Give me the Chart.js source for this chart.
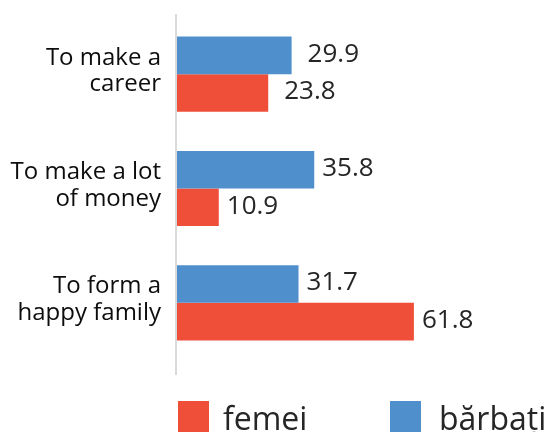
<!DOCTYPE html>
<html>
<head>
<meta charset="utf-8">
<script src="https://cdn.jsdelivr.net/npm/chart.js@4/dist/chart.umd.min.js"></script>
<style>
    body { margin: 0; background: #fff; }
    #wrap { position: relative; width: 552px; height: 432px; overflow: hidden; font-family: "Open Sans", sans-serif; }
    #chart { position: absolute; left: 0; top: 0; }
    .leg-box { position: absolute; top: 401px; width: 31px; height: 31px; }
    .leg-txt { position: absolute; top: 402px; font-size: 32px; line-height: 32px; color: #262626; white-space: nowrap; }
</style>
</head>
<body>
<div id="wrap">
    <canvas id="chart" width="552" height="432"></canvas>
    <div id="legend"></div>
</div>
<script>
// dados
const categorias = [['To make a', 'career'], ['To make a lot', 'of money'], ['To form a', 'happy family']];
const barbati = [29.9, 35.8, 31.7];
const femei = [23.8, 10.9, 61.8];

const corAzul = '#4F8FCC';
const corVermelho = '#EF4F38';

// distancia do rotulo ao fim da barra (por categoria)
const gapRotulo = [16, 8, 8];

// rotulos de valor ao lado das barras
const rotulosPlugin = {
    id: 'rotulos',
    afterDatasetsDraw(chart) {
        const ctx = chart.ctx;
        ctx.save();
        ctx.font = '26px "Open Sans"';
        ctx.fillStyle = '#262626';
        ctx.textBaseline = 'middle';
        ctx.textAlign = 'left';
        chart.data.datasets.forEach((ds, i) => {
            const meta = chart.getDatasetMeta(i);
            meta.data.forEach((bar, j) => {
                ctx.fillText(ds.data[j].toFixed(1), bar.x + gapRotulo[j], bar.y - 1);
            });
        });
        ctx.restore();
    }
};

// linha do eixo vertical (um pouco mais longa que a area)
const eixoPlugin = {
    id: 'eixo',
    beforeDatasetsDraw(chart) {
        const a = chart.chartArea;
        const ctx = chart.ctx;
        ctx.save();
        ctx.strokeStyle = '#D9D9D9';
        ctx.lineWidth = 2;
        ctx.beginPath();
        ctx.moveTo(a.left - 1, a.top - 3);
        ctx.lineTo(a.left - 1, a.bottom + 15);
        ctx.stroke();
        ctx.restore();
    }
};

const ctx = document.getElementById('chart').getContext('2d');
const chart = new Chart(ctx, {
    type: 'bar',
    data: {
        labels: categorias,
        datasets: [{
            label: 'bărbați',
            data: barbati,
            backgroundColor: corAzul,
            categoryPercentage: 0.657,
            barPercentage: 1.0
        }, {
            label: 'femei',
            data: femei,
            backgroundColor: corVermelho,
            categoryPercentage: 0.657,
            barPercentage: 1.0
        }]
    },
    options: {
        indexAxis: 'y',
        responsive: false,
        animation: false,
        layout: {
            padding: { top: 17, right: 30, bottom: 72, left: 0 }
        },
        plugins: {
            legend: { display: false },
            tooltip: { enabled: false }
        },
        scales: {
            x: {
                display: false,
                min: 0,
                max: 90
            },
            y: {
                afterFit(scale) {
                    scale.width = 177;
                    scale.paddingTop = 0;
                    scale.paddingBottom = 0;
                },
                grid: { display: false, drawTicks: false },
                border: { display: false },
                ticks: {
                    padding: 16,
                    labelOffset: -3,
                    color: '#0d0d0d',
                    font: { family: 'Open Sans', size: 24, lineHeight: 1.11 }
                }
            }
        }
    },
    plugins: [rotulosPlugin, eixoPlugin]
});

// legenda (femei primeiro, como no original)
const legenda = [
    { texto: 'femei', cor: corVermelho, caixa: 178, txt: 223 },
    { texto: 'bărbați', cor: corAzul, caixa: 390, txt: 439 }
];
const leg = document.getElementById('legend');
legenda.forEach(item => {
    const b = document.createElement('div');
    b.className = 'leg-box';
    b.style.left = item.caixa + 'px';
    b.style.background = item.cor;
    leg.appendChild(b);
    const t = document.createElement('div');
    t.className = 'leg-txt';
    t.style.left = item.txt + 'px';
    t.textContent = item.texto;
    leg.appendChild(t);
});
</script>
</body>
</html>
